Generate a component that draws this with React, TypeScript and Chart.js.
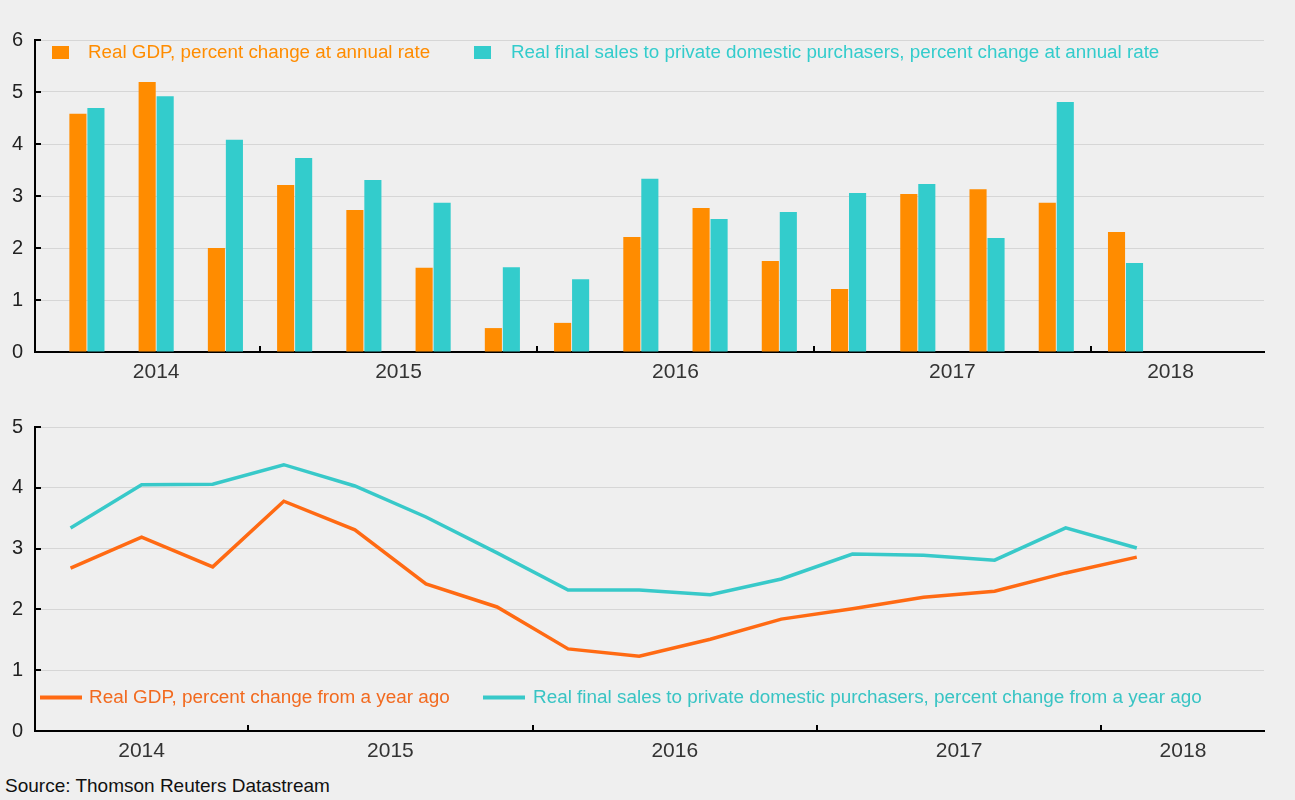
import React, { useEffect, useRef } from "react";
import { Chart, registerables } from "chart.js";

Chart.register(...registerables);

// ---------- data ----------
const quarters = [
  "2014Q2", "2014Q3", "2014Q4",
  "2015Q1", "2015Q2", "2015Q3", "2015Q4",
  "2016Q1", "2016Q2", "2016Q3", "2016Q4",
  "2017Q1", "2017Q2", "2017Q3", "2017Q4",
  "2018Q1",
];

const gdpAnnualRate = [4.58, 5.19, 2.0, 3.21, 2.73, 1.62, 0.46, 0.56, 2.21, 2.77, 1.75, 1.21, 3.04, 3.13, 2.87, 2.31];
const salesAnnualRate = [4.69, 4.92, 4.08, 3.73, 3.31, 2.87, 1.63, 1.4, 3.33, 2.56, 2.69, 3.06, 3.23, 2.19, 4.81, 1.71];

const gdpYoY = [2.68, 3.19, 2.7, 3.78, 3.31, 2.42, 2.04, 1.35, 1.23, 1.51, 1.84, 2.01, 2.2, 2.3, 2.6, 2.86];
const salesYoY = [3.34, 4.05, 4.06, 4.38, 4.03, 3.52, 2.93, 2.32, 2.32, 2.24, 2.5, 2.91, 2.89, 2.81, 3.34, 3.01];

const yearLabels = ["2014", "2015", "2016", "2017", "2018"];
const yearLabelPos = [1.5, 5, 9, 13, 16.15];
const yearBoundaries = [3, 7, 11, 15];

const topLegend = [
  "Real GDP, percent change at annual rate",
  "Real final sales to private domestic purchasers, percent change at annual rate",
];
const bottomLegend = [
  "Real GDP, percent change from a year ago",
  "Real final sales to private domestic purchasers, percent change from a year ago",
];

// ---------- styles ----------
const FONT = "'Liberation Sans', Arial, sans-serif";
const BG = "#efefef";
const BAR_ORANGE = "#ff8c00";
const BAR_TEAL = "#33cccc";
const LINE_ORANGE = "#ff6a13";
const LINE_TEAL = "#38c9c9";
const TEXT_ORANGE_BOTTOM = "#f26a1f";
const TEXT_TEAL_BOTTOM = "#38c4c4";
const GRID = "#d6d6d6";

const W = 1295;

const toPoints = (vals: number[]) => vals.map((v, i) => ({ x: i + 0.5, y: v }));

const yearLabelMap: Record<string, string> = {};
yearLabelPos.forEach((p, i) => (yearLabelMap[String(p)] = yearLabels[i]));

type LegendItem = { kind: "box" | "line"; color: string; textColor: string; text: string; x: number; y: number; tx: number };

const makeDecorPlugin = (legend: LegendItem[], fontSize: number) => ({
  id: "decor",
  afterDraw(chart: any) {
    const ctx = chart.ctx;
    const area = chart.chartArea;
    const xs = chart.scales.x;
    const ys = chart.scales.y;
    ctx.save();
    ctx.strokeStyle = "#000";
    ctx.lineWidth = 2;
    // inward y tick marks
    ys.ticks.forEach((t: any) => {
      const y = Math.round(ys.getPixelForValue(t.value));
      ctx.beginPath();
      ctx.moveTo(area.left, y);
      ctx.lineTo(area.left + 6, y);
      ctx.stroke();
    });
    // year boundary marks, pointing up
    yearBoundaries.forEach((b) => {
      const x = Math.round(xs.getPixelForValue(b));
      ctx.beginPath();
      ctx.moveTo(x, area.bottom);
      ctx.lineTo(x, area.bottom - 6);
      ctx.stroke();
    });
    // legend
    ctx.font = `${fontSize}px ${FONT}`;
    ctx.textBaseline = "middle";
    ctx.textAlign = "left";
    legend.forEach((it) => {
      if (it.kind === "box") {
        ctx.fillStyle = it.color;
        ctx.fillRect(it.x, it.y - 6.5, 17, 13);
      } else {
        ctx.strokeStyle = it.color;
        ctx.lineWidth = 4;
        ctx.beginPath();
        ctx.moveTo(it.x, it.y);
        ctx.lineTo(it.x + 42, it.y);
        ctx.stroke();
      }
      ctx.fillStyle = it.textColor;
      ctx.fillText(it.text, it.tx, it.y);
    });
    ctx.restore();
  },
});

const yScale = (max: number) => ({
  min: 0,
  max,
  afterFit: (s: any) => {
    s.width = 35;
  },
  ticks: {
    stepSize: 1,
    padding: 12,
    color: "#222",
    font: { family: FONT, size: 20 },
  },
  grid: { color: GRID, lineWidth: 1, drawTicks: false },
  border: { display: true, color: "#000", width: 2 },
});

const xScale = (min: number, max: number, height: number) => ({
  type: "linear" as const,
  min,
  max,
  offset: false,
  bounds: "ticks" as const,
  afterBuildTicks: (s: any) => {
    s.ticks = yearLabelPos.map((v) => ({ value: v }));
  },
  afterFit: (s: any) => {
    s.height = height;
  },
  ticks: {
    autoSkip: false,
    maxRotation: 0,
    padding: 8,
    color: "#333",
    font: { family: FONT, size: 21 },
    callback: (v: any) => yearLabelMap[String(v)] ?? "",
  },
  grid: { display: true, offset: false, drawOnChartArea: false, drawTicks: false },
  border: { display: true, color: "#000", width: 2 },
});

function TopChart() {
  const ref = useRef<HTMLCanvasElement>(null);
  useEffect(() => {
    const legend: LegendItem[] = [
      { kind: "box", color: BAR_ORANGE, textColor: BAR_ORANGE, text: topLegend[0], x: 52, y: 52.5, tx: 88 },
      { kind: "box", color: BAR_TEAL, textColor: BAR_TEAL, text: topLegend[1], x: 474, y: 52.5, tx: 511 },
    ];
    const chart = new Chart(ref.current!, {
      type: "bar",
      data: {
        datasets: [
          { label: topLegend[0], data: toPoints(gdpAnnualRate), backgroundColor: BAR_ORANGE },
          { label: topLegend[1], data: toPoints(salesAnnualRate), backgroundColor: BAR_TEAL },
        ],
      },
      options: {
        responsive: false,
        animation: false,
        events: [],
        layout: { padding: { top: 40, right: 31, left: 0, bottom: 0 } },
        datasets: { bar: { categoryPercentage: 0.52, barPercentage: 0.95 } },
        plugins: { legend: { display: false }, tooltip: { enabled: false } },
        scales: {
          x: xScale(-0.25, 17.5, 43),
          y: yScale(6),
        },
      } as any,
      plugins: [makeDecorPlugin(legend, 18.8)],
    });
    return () => chart.destroy();
  }, []);
  return <canvas ref={ref} width={W} height={395} style={{ display: "block" }} />;
}

function BottomChart() {
  const ref = useRef<HTMLCanvasElement>(null);
  useEffect(() => {
    const legend: LegendItem[] = [
      { kind: "line", color: LINE_ORANGE, textColor: TEXT_ORANGE_BOTTOM, text: bottomLegend[0], x: 40, y: 302.5, tx: 89 },
      { kind: "line", color: LINE_TEAL, textColor: TEXT_TEAL_BOTTOM, text: bottomLegend[1], x: 483, y: 302.5, tx: 533 },
    ];
    const chart = new Chart(ref.current!, {
      type: "line",
      data: {
        datasets: [
          { label: bottomLegend[0], data: toPoints(gdpYoY), borderColor: LINE_ORANGE, borderWidth: 3.5, pointRadius: 0, tension: 0 },
          { label: bottomLegend[1], data: toPoints(salesYoY), borderColor: LINE_TEAL, borderWidth: 3.5, pointRadius: 0, tension: 0 },
        ],
      },
      options: {
        responsive: false,
        animation: false,
        events: [],
        layout: { padding: { top: 32, right: 31, left: 0, bottom: 0 } },
        plugins: { legend: { display: false }, tooltip: { enabled: false } },
        scales: {
          x: xScale(0, 17.29, 39),
          y: yScale(5),
        },
      } as any,
      plugins: [makeDecorPlugin(legend, 18.9)],
    });
    return () => chart.destroy();
  }, []);
  return <canvas ref={ref} width={W} height={375} style={{ display: "block" }} />;
}

export default function App() {
  return (
    <div style={{ position: "fixed", left: 0, top: 0, width: W, height: 800, background: BG, overflow: "hidden" }}>
      <div style={{ position: "absolute", left: 0, top: 0 }}>
        <TopChart />
      </div>
      <div style={{ position: "absolute", left: 0, top: 395 }}>
        <BottomChart />
      </div>
      <div
        style={{
          position: "absolute",
          left: 5,
          top: 775,
          fontFamily: FONT,
          fontSize: 19,
          lineHeight: "22px",
          color: "#111",
          whiteSpace: "nowrap",
        }}
      >
        Source: Thomson Reuters Datastream
      </div>
    </div>
  );
}
